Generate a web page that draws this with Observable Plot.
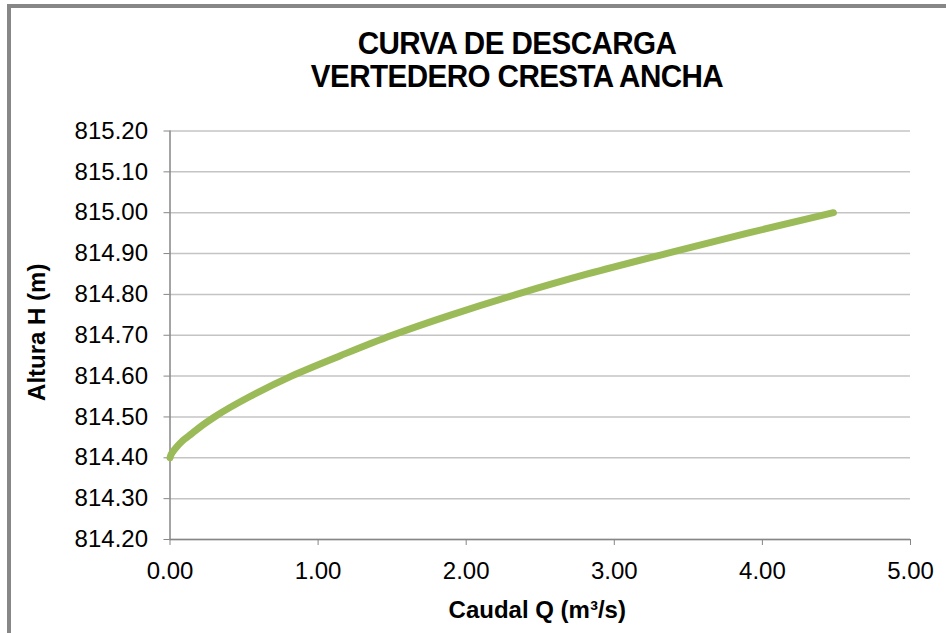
<!DOCTYPE html>
<html>
<head>
<meta charset="utf-8">
<script src="https://cdn.jsdelivr.net/npm/d3@7"></script>
<script src="https://cdn.jsdelivr.net/npm/@observablehq/plot@0.6"></script>
<style>
  html, body { margin: 0; padding: 0; background: #fff; overflow: hidden; }
  #wrap { position: relative; width: 946px; height: 633px; font-family: "Liberation Sans", Arial, sans-serif; }
  #frame { position: absolute; left: 7px; top: 4px; width: 1000px; height: 700px;
           border-top: 4px solid #878787; border-left: 4px solid #878787; box-sizing: border-box; }
  #title { position: absolute; left: 217px; width: 600px; top: 27px; text-align: center;
           font-weight: bold; font-size: 31px; line-height: 33px; color: #000; letter-spacing: -0.6px;
           transform: scaleX(0.955); transform-origin: 300px 0; z-index: 2; }
  #chart { position: absolute; left: 0; top: 0; z-index: 1; }
</style>
</head>
<body>
<div id="wrap">
  <div id="frame"></div>
  <div id="title">CURVA DE DESCARGA<br>VERTEDERO CRESTA ANCHA</div>
  <div id="chart"></div>
</div>
<script>
// Altura H (m)
const alturaH = [814.40, 814.41, 814.42, 814.44, 814.46, 814.48, 814.50, 814.55, 814.60, 814.65, 814.70, 814.75, 814.80, 814.85, 814.90, 814.95, 815.00];
// Caudal Q (m3/s)
const caudalQ = [0.00, 0.01, 0.03, 0.08, 0.15, 0.22, 0.30, 0.54, 0.82, 1.15, 1.50, 1.90, 2.34, 2.82, 3.35, 3.90, 4.48];
const xTicks = [0, 1, 2, 3, 4, 5];
const yTicks = [814.2, 814.3, 814.4, 814.5, 814.6, 814.7, 814.8, 814.9, 815.0, 815.1, 815.2];

const data = alturaH.map((h, i) => ({H: h, Q: caudalQ[i]}));
const fmt = d3.format(".2f");
const axisColor = "#868686";

const chart = Plot.plot({
  width: 946,
  height: 633,
  marginLeft: 169.5,
  marginRight: 36,
  marginTop: 130.5,
  marginBottom: 94,
  style: {fontFamily: "'Liberation Sans', Arial, sans-serif", background: "transparent", color: "#000"},
  x: {domain: [0, 5]},
  y: {domain: [814.2, 815.2]},
  marks: [
    Plot.gridY(yTicks, {stroke: "#c4c4c4", strokeOpacity: 1, strokeWidth: 1.5}),
    Plot.axisY(yTicks, {tickFormat: fmt, tickSize: 6, tickPadding: 16, stroke: axisColor, fontSize: 24, fill: "#000", label: null}),
    Plot.axisX(xTicks, {tickFormat: fmt, tickSize: 6, tickPadding: 16, stroke: axisColor, fontSize: 24, fill: "#000", label: null}),
    Plot.ruleX([0], {stroke: axisColor, strokeWidth: 1.5}),
    Plot.ruleY([814.2], {stroke: axisColor, strokeWidth: 1.5}),
    Plot.line(data, {x: "Q", y: "H", stroke: "#9BBB59", strokeWidth: 7, strokeLinecap: "round", strokeLinejoin: "round", curve: "monotone-y"}),
    Plot.text(["Caudal Q (m³/s)"], {frameAnchor: "bottom", dx: -3, dy: 78, text: d => d, fontSize: 24, fontWeight: "bold", fill: "#000"}),
    Plot.text(["Altura H (m)"], {frameAnchor: "left", textAnchor: "middle", dx: -133, dy: -3, rotate: -90, text: d => d, fontSize: 24, fontWeight: "bold", fill: "#000"})
  ]
});
document.getElementById("chart").appendChild(chart);
</script>
</body>
</html>
